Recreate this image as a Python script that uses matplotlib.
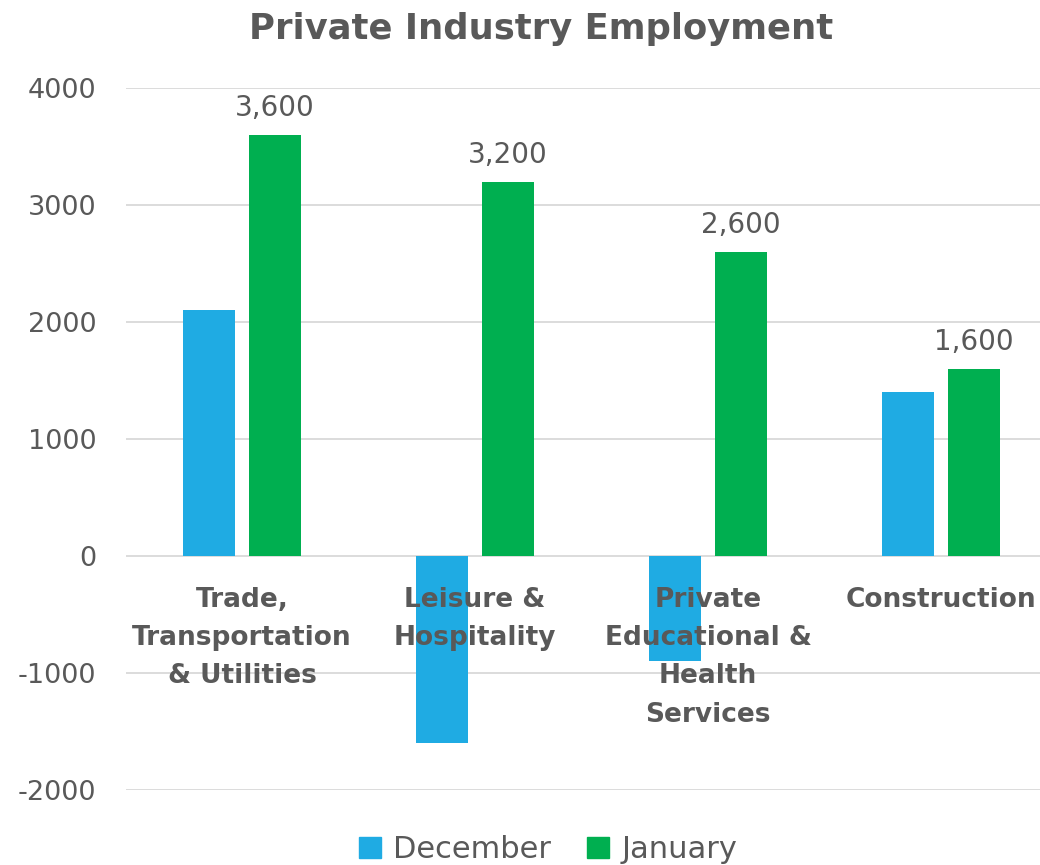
import matplotlib
matplotlib.use("Agg")
import matplotlib.pyplot as plt
from matplotlib.patches import Patch
import numpy as np

categories = ["Trade,\nTransportation\n& Utilities", "Leisure &\nHospitality",
              "Private\nEducational &\nHealth\nServices", "Construction"]
december = [2100, -1600, -900, 1400]
january = [3600, 3200, 2600, 1600]
yticks = [-2000, -1000, 0, 1000, 2000, 3000, 4000]

BLUE = "#1FABE3"
GREEN = "#00AF50"
GRAY = "#595959"

plt.rcParams['font.family'] = ['DejaVu Sans']

fig = plt.figure(figsize=(10.4, 8.65), dpi=100)
ax = fig.add_axes([125.5 / 1040, 75 / 865, (1040 - 125.5) / 1040, (790 - 88) / 865])

x = np.arange(len(categories))
w = 0.223
off = 0.14
ax.bar(x - off, december, width=w, color=BLUE, zorder=3)
ax.bar(x + off, january, width=w, color=GREEN, zorder=3)

ax.set_xlim(-0.5, 3.425)
ax.set_ylim(-2000, 4000)
ax.set_yticks(yticks)
ax.set_yticklabels([str(v) for v in yticks], fontsize=19.5, color=GRAY)
ax.tick_params(axis='y', length=0, pad=21)
ax.set_xticks([])
ax.grid(axis='y', color="#D9D9D9", linewidth=1.3, zorder=0)
for s in ax.spines.values():
    s.set_visible(False)

for xi, v in zip(x, january):
    ax.annotate(f"{v:,}", (xi + off, v), xytext=(0, 9), textcoords='offset points',
                ha='center', va='bottom', fontsize=20, color=GRAY)

for xi, c in zip(x, categories):
    ax.annotate(c, (xi, 0), xytext=(0, -22), textcoords='offset points',
                ha='center', va='top', fontsize=19, fontweight='bold', color=GRAY,
                linespacing=1.62, zorder=5, annotation_clip=False)

fig.text(0.52, 0.966, "Private Industry Employment", ha='center', va='center',
         fontsize=25.5, fontweight='bold', color=GRAY)

handles = [Patch(color=BLUE, label="December"), Patch(color=GREEN, label="January")]
fig.legend(handles=handles, loc='lower center', bbox_to_anchor=(0.527, -0.031), ncol=2,
           frameon=False, fontsize=22, handlelength=0.7, handleheight=0.7,
           handletextpad=0.4, columnspacing=1.2, labelcolor=GRAY)

fig.savefig("out.png", dpi=100)
